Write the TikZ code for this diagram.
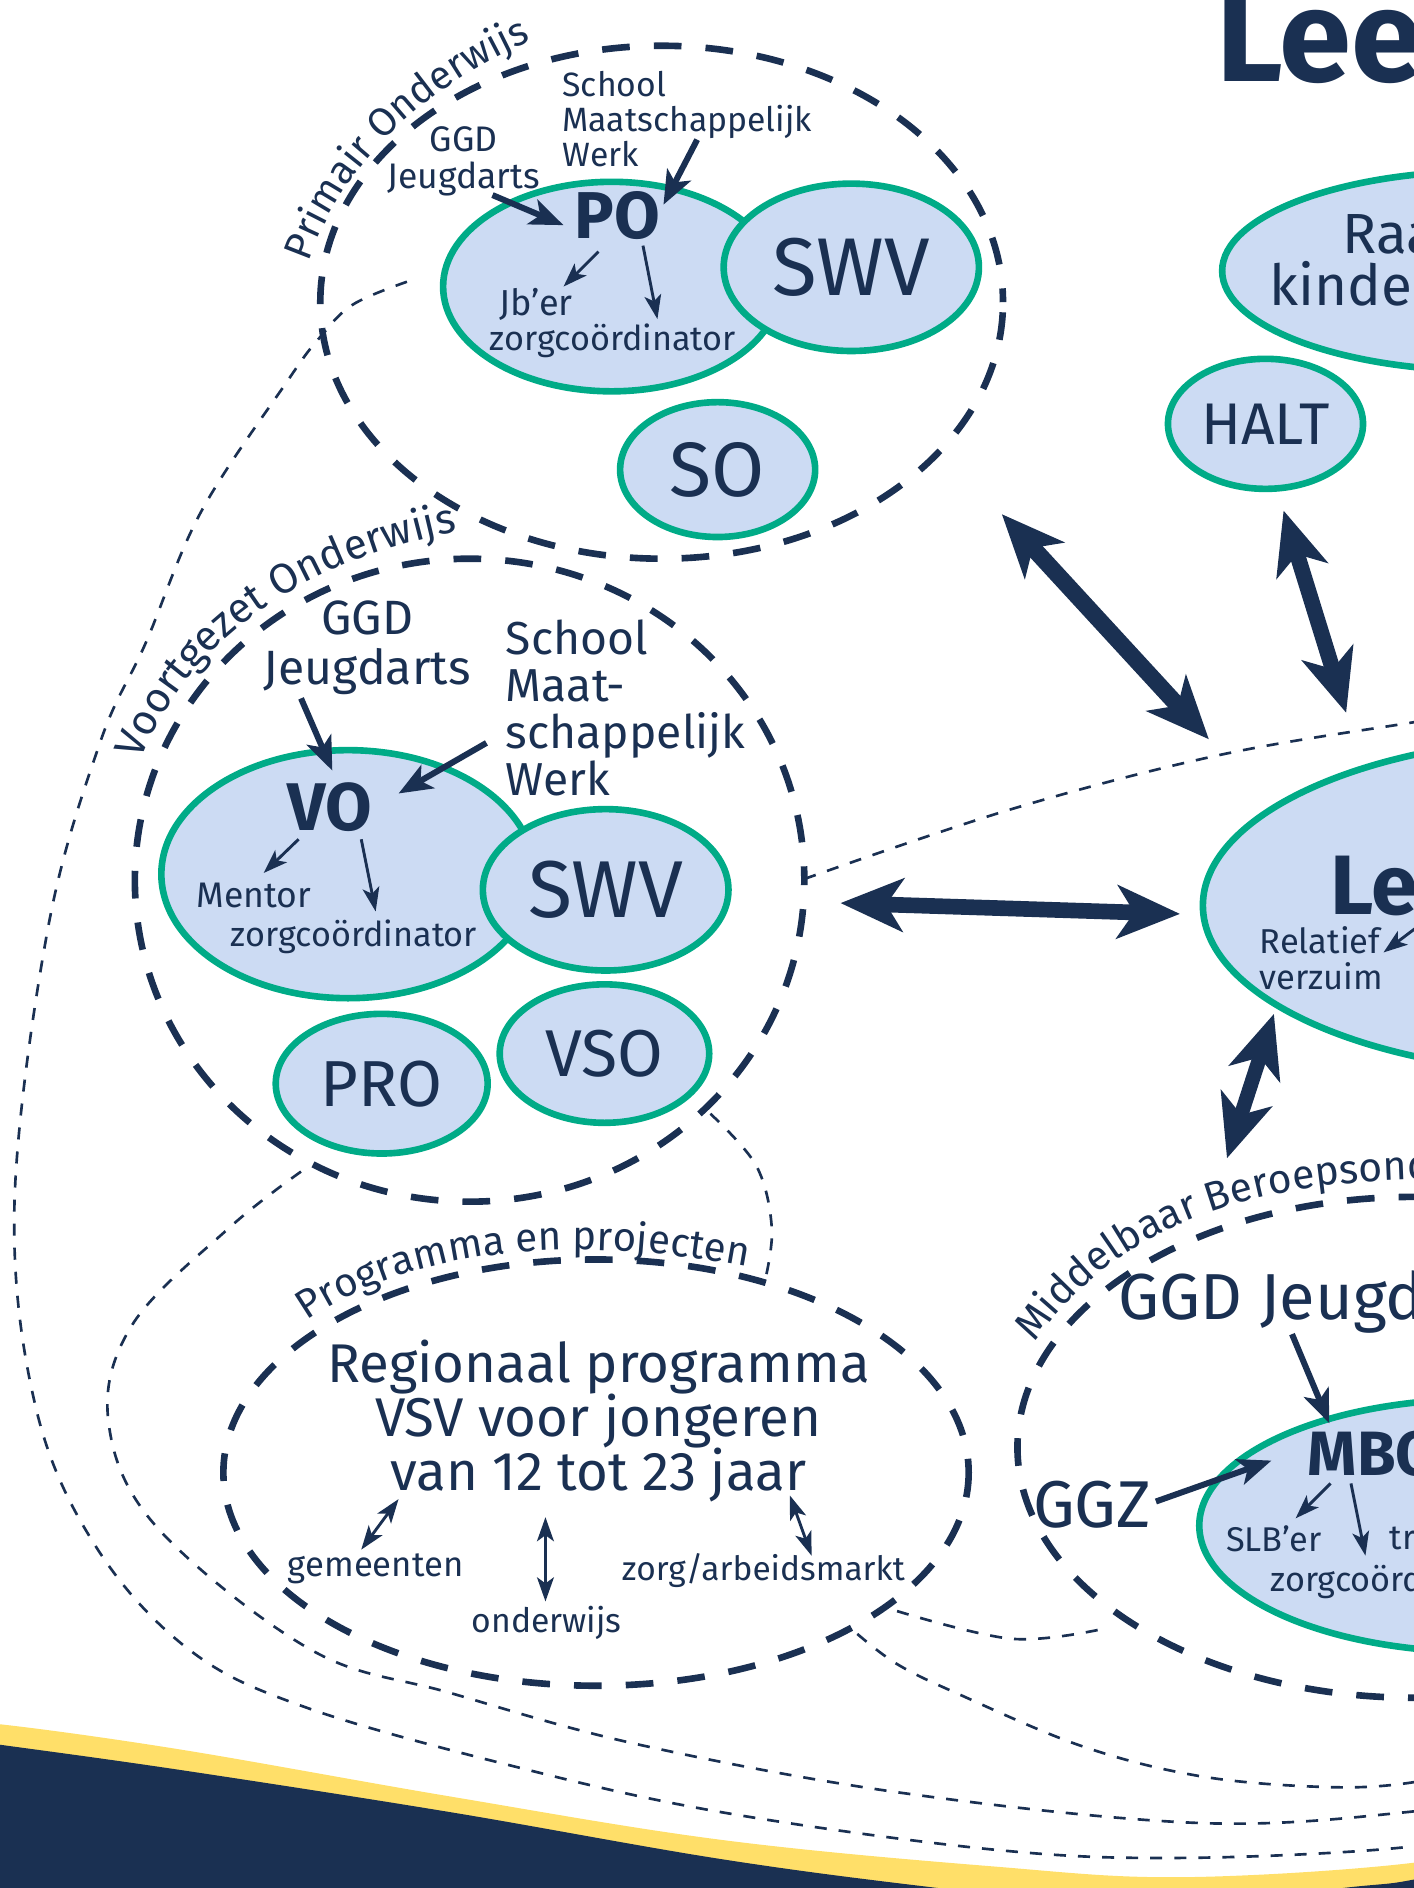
\documentclass[tikz,border=0pt]{standalone}
\usepackage{fontspec}
\setmainfont{Fira Sans}
\usepackage{tikz}
\usetikzlibrary{shapes.geometric}
\usetikzlibrary{arrows.meta}
\usetikzlibrary{decorations.text}
\definecolor{navy}{HTML}{1A3052}
\definecolor{teal}{HTML}{00AB87}
\definecolor{pale}{HTML}{CCDBF3}
\definecolor{sun}{HTML}{FFDF69}
\newcommand{\arcfont}[1]{\fontsize{#1}{#1}\selectfont\color{navy}}
\tikzset{
  blob/.style={ellipse,draw=teal,fill=pale,line width=5.5pt,inner sep=0pt,text=navy},
  sector/.style={ellipse,draw=navy,line width=5.5pt,dash pattern=on 23pt off 20pt,dash phase=11.5pt,inner sep=0pt},
  thindash/.style={draw=navy,line width=2.2pt,dash pattern=on 10pt off 10pt},
  txt/.style={text=navy,inner sep=0pt,align=center,font=\fontsize{#1}{#1}\selectfont\setlength{\baselineskip}{1.04\baselineskip}},
  fat/.style={draw=navy,line width=14pt,{Stealth[length=52pt,width=44pt,inset=14pt]}-{Stealth[length=52pt,width=44pt,inset=14pt]}},
  med/.style={draw=navy,line width=5pt,-{Stealth[length=28pt,width=22pt,inset=7pt]}},
  small/.style={draw=navy,line width=2.4pt,-{Stealth[length=20pt,width=14pt,inset=5pt]}},
  both/.style={draw=navy,line width=2.4pt,{Stealth[length=20pt,width=14pt,inset=5pt]}-{Stealth[length=20pt,width=14pt,inset=5pt]}},
  arclabel/.style 2 args={decorate,decoration={text along path,text={|\arcfont{#1}|#2}}}
}
\begin{document}
\begin{tikzpicture}[x=1pt,y=-1pt]
\useasboundingbox (0,0) rectangle (1174.3,1568);
\clip (0,0) rectangle (1174.3,1568);

% wave at the bottom
\fill[sun] plot[smooth,tension=0.6] coordinates {(-40,1432) (0,1432) (150,1453) (374,1492) (599,1528) (824,1550) (981,1559) (1174,1547) (1260,1525)} -- (1260,1600) -- (-40,1600) -- cycle;
\fill[navy] plot[smooth,tension=0.6] coordinates {(-40,1444) (0,1449) (150,1470) (374,1505) (599,1544) (779,1568) (950,1586) (1115,1568) (1174,1561) (1260,1540)} -- (1260,1650) -- (-40,1650) -- cycle;

% sectors
\node[sector,minimum width=567pt,minimum height=426pt] (prim) at (549.5,251) {};
\node[sector,minimum width=556pt,minimum height=534pt] (vo) at (390,731) {};
\node[sector,minimum width=619pt,minimum height=354pt] (prog) at (495,1223) {};
\node[sector,minimum width=660pt,minimum height=416pt] (mbo) at (1175,1202) {};

% long dashed lines
\coordinate (lineA) at (338,234);
\coordinate (lineB) at (250,973);
\coordinate (lineC) at (712,1357);
\coordinate (lineD) at (745,1338);
\coordinate (lineE) at (590,925);
\coordinate (lineF) at (668,730);
\draw[thindash] plot[smooth,tension=0.6] coordinates {(lineA) (293,253) (265,281) (239,316) (167,425) (121,534) (83,617) (40,770) (12,1000) (30,1170) (80,1285) (157,1370) (254,1418) (427,1467) (599,1505) (824,1536) (981,1543) (1168,1534) (1240,1515)};
\draw[thindash] plot[smooth,tension=0.6] coordinates {(lineB) (190,1020) (110,1100) (90,1180) (130,1268) (258,1370) (374,1406) (531,1449) (749,1489) (996,1514) (1168,1505) (1240,1490)};
\draw[thindash] plot[smooth,tension=0.6] coordinates {(lineC) (745,1382) (794,1406) (898,1450) (996,1475) (1097,1484) (1168,1481) (1240,1465)};
\draw[thindash] plot[smooth,tension=0.6] coordinates {(lineD) (840,1361) (915,1353)};
\draw[thindash] plot[smooth,tension=0.6] coordinates {(lineE) (628,968) (641,1020) (635,1065)};
\draw[thindash] plot[smooth,tension=0.6] coordinates {(lineF) (840,672) (1013,627) (1173,600) (1240,590)};

% curved titles
\path[arclabel={33}{Primair Onderwijs}] (256,218) .. controls (285,135) and (355,65) .. (470,22);
\path[arclabel={35}{Voortgezet Onderwijs}] (117,632) .. controls (155,530) and (260,455) .. (420,435);
\path[arclabel={33.5}{Programma en projecten}] (255,1097) .. controls (330,1045) and (460,1015) .. (660,1060);
\path[arclabel={34}{Middelbaar Beroepsonderwijs}] (859,1115) .. controls (930,1015) and (1050,970) .. (1250,981);

% primair onderwijs
\node[blob,minimum width=280pt,minimum height=174pt] (po) at (508,238) {};
\node[blob,minimum width=212pt,minimum height=139pt,txt=68] (poswv) at (707,222) {SWV};
\node[blob,minimum width=162pt,minimum height=112pt,txt=64] (so) at (596,390) {SO};
\node[txt=49,font=\fontsize{55}{56}\bfseries\selectfont] (polab) at (513,179) {PO};
\node[txt=29.5] (poggd) at (385,134) {GGD\\Jeugdarts};
\node[txt=28,anchor=west,align=left] (posmw) at (467,99) {School\\Maatschappelijk\\Werk};
\node[txt=30] (pojb) at (445,253) {Jb’er};
\node[txt=28.4] (pozorg) at (509,283) {zorgcoördinator};
\draw[med] ([shift={(24,28)}]poggd.center) -- ([shift={(-45,8)}]polab.center);
\draw[med] ([shift={(112,17)}]posmw.west) -- ([shift={(38,-9)}]polab.center);
\draw[small] ([shift={(-16,30)}]polab.center) -- ([shift={(23,-15)}]pojb.center);
\draw[small] ([shift={(21,25)}]polab.center) -- ([shift={(37,-18)}]pozorg.center);

% voortgezet onderwijs
\node[blob,minimum width=310pt,minimum height=206pt] (voblob) at (289,726) {};
\node[blob,minimum width=204pt,minimum height=134pt,txt=67] (voswv) at (503,739) {SWV};
\node[blob,minimum width=174pt,minimum height=115pt,txt=55] (vso) at (502,875) {VSO};
\node[blob,minimum width=176pt,minimum height=116pt,txt=54] (pro) at (317,900) {PRO};
\node[txt=49,font=\fontsize{56}{57}\bfseries\selectfont] (volab) at (274,670) {VO};
\node[txt=40] (voggd) at (305,538) {GGD\\Jeugdarts};
\node[txt=38.4,anchor=west,align=left] (vosmw) at (420,588) {School\\[-0.7pt]Maat-\\[-0.7pt]schappelijk\\[-0.7pt]Werk};
\node[txt=29.5] (vomentor) at (211,744) {Mentor};
\node[txt=28.4] (vozorg) at (294,778) {zorgcoördinator};
\draw[med] ([shift={(-55,42)}]voggd.center) -- ([shift={(2,-30)}]volab.center);
\draw[med] ([shift={(-16,29)}]vosmw.west) -- ([shift={(57,-11)}]volab.center);
\draw[small] ([shift={(-26,27)}]volab.center) -- ([shift={(8,-19)}]vomentor.center);
\draw[small] ([shift={(26,27)}]volab.center) -- ([shift={(18,-21)}]vozorg.center);

% programma
\node[txt=45.3] (progtxt) at (497,1180) {Regionaal programma\\[-2pt]VSV voor jongeren\\[-2pt]van 12 tot 23 jaar};
\node[txt=28.8] (gem) at (312,1303) {gemeenten};
\node[txt=28] (ond) at (454,1348) {onderwijs};
\node[txt=27.8] (zorgarb) at (634,1304) {zorg/arbeidsmarkt};
\draw[both] ([shift={(-166,65)}]progtxt.center) -- ([shift={(-12,-16)}]gem.center);
\draw[both] ([shift={(-44,80)}]progtxt.center) -- ([shift={(-1,-18)}]ond.center);
\draw[both] ([shift={(159,62)}]progtxt.center) -- ([shift={(40,-12)}]zorgarb.center);

% rechts
\node[blob,minimum width=440pt,minimum height=166pt] (raad) at (1235,225) {};
\node[txt=47,anchor=west] (raadtxt) at (1115,193) {Raad};
\node[txt=47,anchor=west] (kindtxt) at (1054,236) {kinder};
\node[blob,minimum width=162pt,minimum height=108pt,txt=48.8] (halt) at (1051,352) {HALT};
\node[blob,minimum width=636pt,minimum height=280pt] (leer) at (1317,752) {};
\node[txt=68,font=\fontsize{70}{72}\bfseries\selectfont,anchor=west] (leerlab) at (1105,736) {Le};
\node[txt=28.7,anchor=west,align=left] (verz) at (1046,796) {Relatief\\verzuim};
\draw[small] ([shift={(144,-36)}]verz.west) -- ([shift={(103,-5)}]verz.west);

% mbo
\node[blob,minimum width=466pt,minimum height=210pt] (mboblob) at (1229,1267) {};
\node[txt=54,anchor=west] (mboggd) at (929,1081) {GGD Jeugdarts};
\node[txt=55] (ggz) at (907,1250) {GGZ};
\node[txt=49,font=\fontsize{52}{53}\bfseries\selectfont,anchor=west] (mbolab) at (1086,1207) {MBO};
\node[txt=28.5,anchor=west] (slb) at (1018,1278) {SLB’er};
\node[txt=28.5,anchor=west] (trtxt) at (1154,1278) {tr};
\node[txt=28.4,anchor=west] (mbozorg) at (1055,1314) {zorgcoördinator};
\draw[med] ([shift={(144,27)}]mboggd.west) -- ([shift={(18,-25)}]mbolab.west);
\draw[med] ([shift={(53,-3)}]ggz.center) -- ([shift={(-30,6)}]mbolab.west);
\draw[small] ([shift={(19,25)}]mbolab.west) -- ([shift={(58,-17)}]slb.west);
\draw[small] ([shift={(36,25)}]mbolab.west) -- ([shift={(79,-22)}]mbozorg.west);

% dikke pijlen
\coordinate (primEnd) at (832,427);
\coordinate (leerA) at (1004,614);
\coordinate (haltEnd) at (1066,424);
\coordinate (leerB) at (1118,592);
\coordinate (voEnd) at (698,750);
\coordinate (leerC) at (980,759);
\coordinate (leerD) at (1058,842);
\coordinate (mboEnd) at (1019,962);
\draw[fat] (primEnd) -- (leerA);
\draw[fat,line width=13pt] (haltEnd) -- (leerB);
\draw[fat,line width=13pt] (voEnd) -- (leerC);
\draw[fat,line width=12pt] (leerD) -- (mboEnd);

% titel
\node[txt=108,font=\fontsize{108}{110}\bfseries\selectfont,anchor=base west] (titel) at (1010,68) {Lee};
\end{tikzpicture}
\end{document}
